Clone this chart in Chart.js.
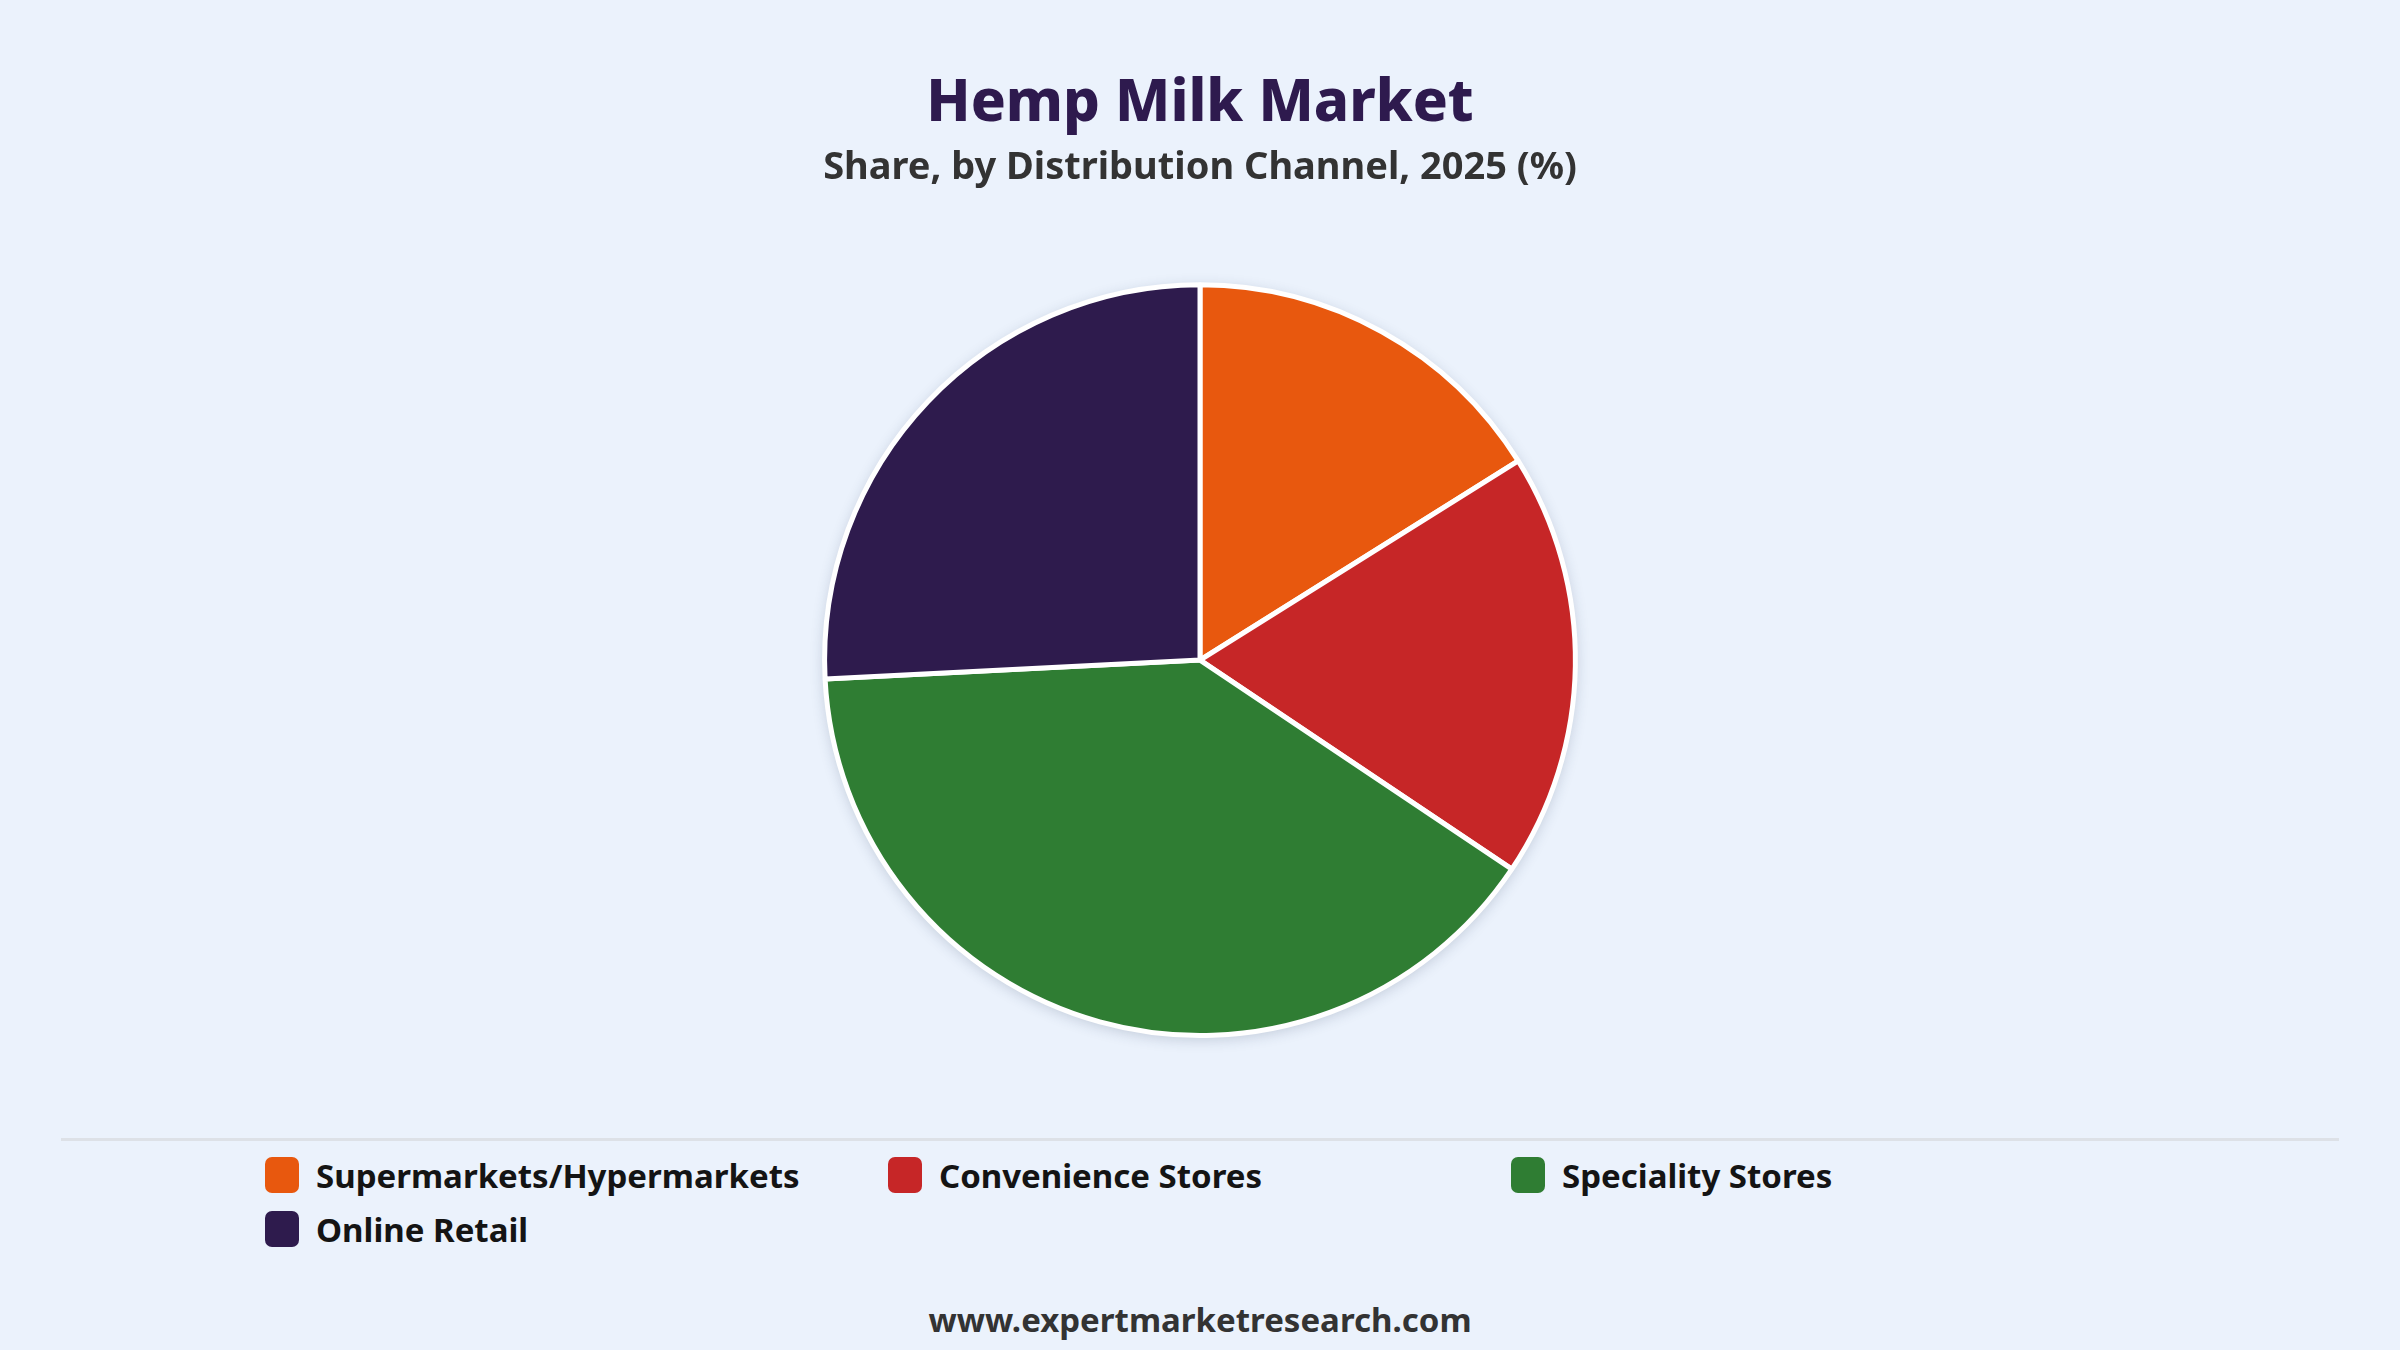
<!DOCTYPE html>
<html>
<head>
<meta charset="utf-8">
<script src="https://cdn.jsdelivr.net/npm/chart.js@4.4.1/dist/chart.umd.min.js"></script>
<style>
    html, body { margin: 0; padding: 0; }
    body {
        width: 2400px;
        height: 1350px;
        background: #ebf2fc;
        position: relative;
        overflow: hidden;
        font-family: "Noto Sans", "Open Sans", sans-serif;
    }
    #chartBox {
        position: absolute;
        left: 0; top: 0;
        width: 2400px; height: 1100px;
    }
    #divider {
        position: absolute;
        left: 61px; top: 1138px;
        width: 2278px; height: 3px;
        background: #dde1e7;
    }
    #legend {
        position: absolute;
        left: 265px; top: 1157px;
        display: grid;
        grid-template-columns: repeat(3, 623px);
        row-gap: 18px;
    }
    .item { display: flex; align-items: center; height: 36px; }
    .swatch { width: 34px; height: 36px; border-radius: 7px; margin-right: 17px; }
    .label { font-size: 33px; font-weight: 700; color: #141414; white-space: nowrap; }
    #footer {
        position: absolute;
        left: 0; width: 2400px; top: 1297px;
        text-align: center;
        font-size: 33px; font-weight: 700; color: #333;
    }
</style>
</head>
<body>
<div id="chartBox"><canvas id="pieChart"></canvas></div>
<div id="divider"></div>
<div id="legend"></div>
<div id="footer">www.expertmarketresearch.com</div>

<script>
// values (%)
var channels = ['Supermarkets/Hypermarkets', 'Convenience Stores', 'Speciality Stores', 'Online Retail'];
var shares = [16.1, 18.3, 39.8, 25.8];
var sliceColors = ['#e8580e', '#c62627', '#2f7d33', '#2e1b4d'];

// soft drop shadow behind the whole pie
var pieShadow = {
    id: 'pieShadow',
    beforeDatasetsDraw: function (chart) {
        var arc = chart.getDatasetMeta(0).data[0];
        if (!arc) return;
        var ctx = chart.ctx;
        ctx.save();
        ctx.shadowColor = 'rgba(40,60,90,0.22)';
        ctx.shadowBlur = 14;
        ctx.shadowOffsetY = 3;
        ctx.fillStyle = '#ffffff';
        ctx.beginPath();
        ctx.arc(arc.x, arc.y, arc.outerRadius + 1, 0, Math.PI * 2);
        ctx.fill();
        ctx.restore();
    }
};

var chart = new Chart(document.getElementById('pieChart'), {
    type: 'pie',
    data: {
        labels: channels,
        datasets: [{
            data: shares,
            backgroundColor: sliceColors,
            borderColor: '#ffffff',
            borderWidth: 5
        }]
    },
    options: {
        responsive: true,
        maintainAspectRatio: false,
        animation: false,
        layout: { padding: { top: 0, bottom: 62 } },
        plugins: {
            legend: { display: false },
            tooltip: { enabled: false },
            title: {
                display: true,
                text: 'Hemp Milk Market',
                color: '#2e1a4e',
                font: { family: 'Noto Sans', size: 58, weight: '800' },
                padding: { top: 70, bottom: 0 }
            },
            subtitle: {
                display: true,
                text: 'Share, by Distribution Channel, 2025 (%)',
                color: '#333333',
                font: { family: 'Noto Sans', size: 38, weight: '700' },
                padding: { top: 6, bottom: 91 }
            }
        }
    },
    plugins: [pieShadow]
});

// html legend laid out on a fixed grid, built from the chart's own labels
var legendBox = document.getElementById('legend');
chart.options.plugins.legend.labels.generateLabels(chart).forEach(function (it) {
    var row = document.createElement('div');
    row.className = 'item';
    var sw = document.createElement('span');
    sw.className = 'swatch';
    sw.style.background = it.fillStyle;
    var tx = document.createElement('span');
    tx.className = 'label';
    tx.textContent = it.text;
    row.appendChild(sw);
    row.appendChild(tx);
    legendBox.appendChild(row);
});
</script>
</body>
</html>
